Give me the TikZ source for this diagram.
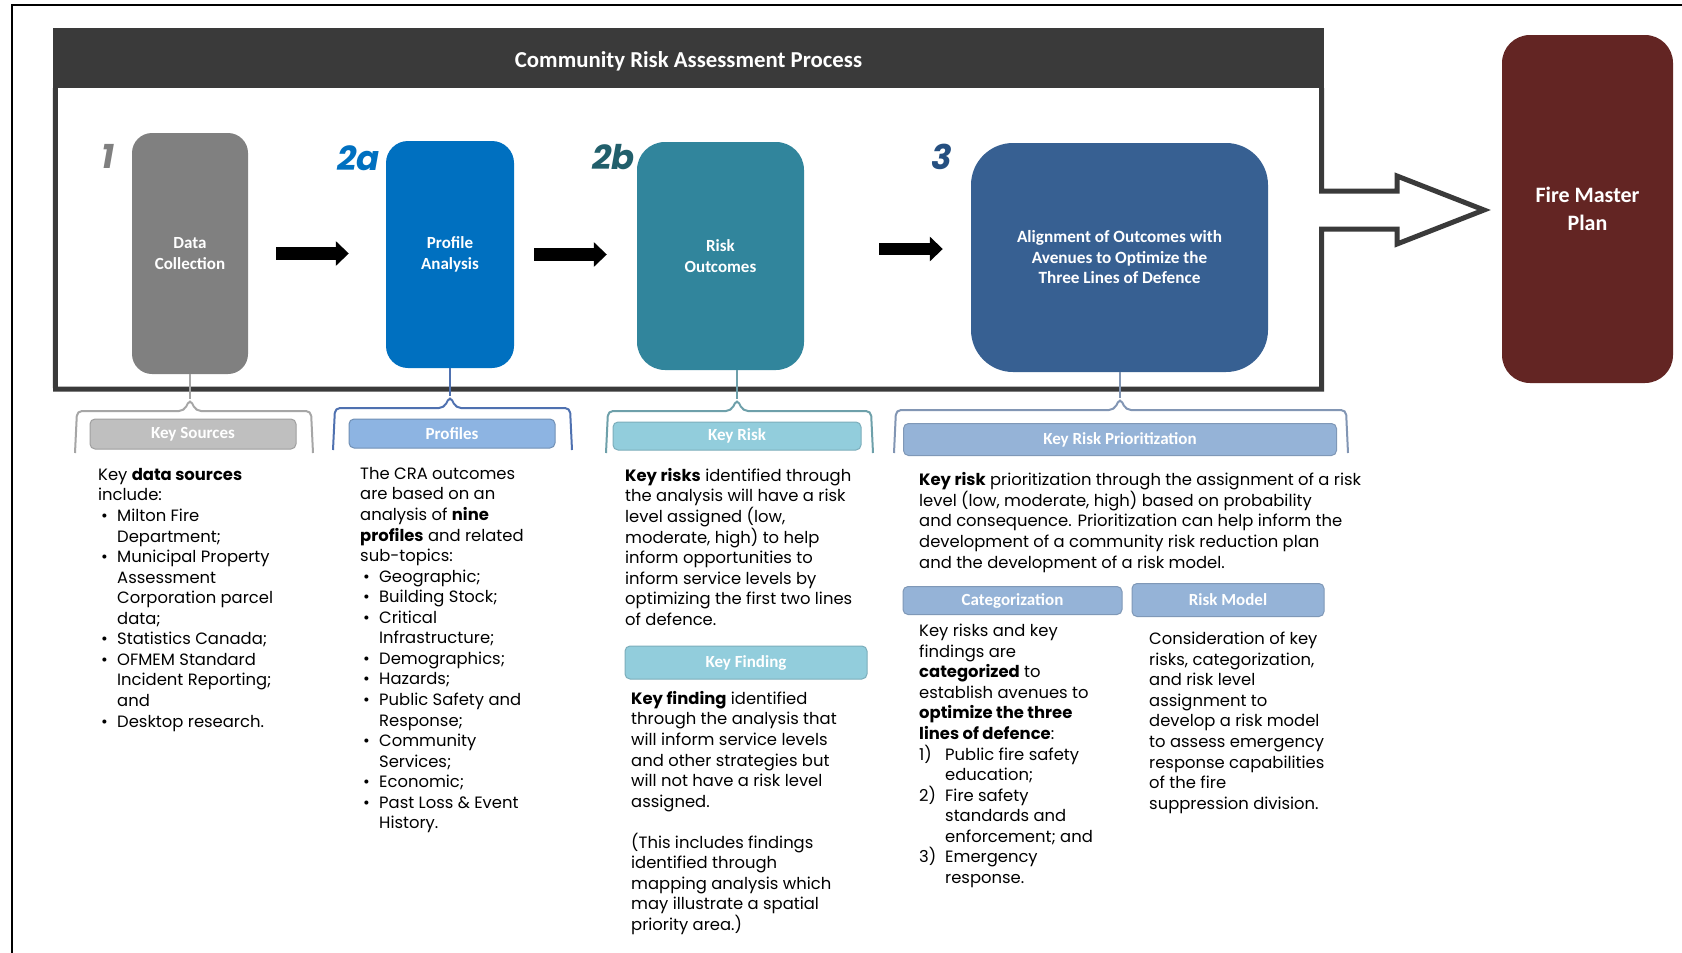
\documentclass[tikz,border=0pt]{standalone}
\usepackage{fontspec}
\setmainfont{Carlito}
\newfontfamily\bodyfont{Poppins}
\usetikzlibrary{positioning,arrows.meta}

\definecolor{hdrgray}{RGB}{58,58,58}
\definecolor{dcgray}{RGB}{128,128,128}
\definecolor{pablue}{RGB}{0,112,192}
\definecolor{roteal}{RGB}{49,133,156}
\definecolor{alblue}{RGB}{55,96,146}
\definecolor{fmpred}{RGB}{99,37,35}
\definecolor{tealdark}{RGB}{33,95,107}
\definecolor{bluedark}{RGB}{37,79,128}
\definecolor{bargray}{RGB}{191,191,191}
\definecolor{barblue}{RGB}{141,180,226}
\definecolor{barteal}{RGB}{146,205,220}
\definecolor{barsteel}{RGB}{149,179,215}
\definecolor{bracegray}{RGB}{166,166,166}
\definecolor{braceblue}{RGB}{79,113,176}
\definecolor{braceteal}{RGB}{110,160,170}
\definecolor{bracesteel}{RGB}{130,150,180}

\newcommand{\bitem}{\hspace*{3pt}\makebox[16pt][l]{\textbullet}}
\newcommand{\bcont}{\hspace*{19pt}}
\newcommand{\nitem}[1]{\makebox[26pt][l]{#1)}}
\newcommand{\ncont}{\hspace*{26pt}}

\begin{document}
\begin{tikzpicture}[x=1pt,y=-1pt,
  stagebox/.style={text=white,align=center,inner sep=0pt,
    font=\fontsize{17}{21}\selectfont\bfseries},
  steptag/.style={inner sep=0pt,font=\bodyfont\fontsize{34}{34}\selectfont\bfseries\itshape},
  fatarrow/.style={line width=12.5pt,-{Triangle[length=13pt,width=24pt]}},
  bar/.style={rounded corners=5pt,line width=1pt,text=white,inner sep=0pt,
    font=\fontsize{17}{18}\selectfont\bfseries},
  brace/.style={line width=2pt,rounded corners=5pt},
  bodytext/.style={anchor=north west,align=left,inner sep=0pt,
    font=\bodyfont\fontsize{16.4}{20.56}\selectfont}]

\fill[white] (0,0) rectangle (1682,953);
\useasboundingbox (0,0) rectangle (1682,953);
\draw[line width=2.5pt] (12,953) -- (12,5) -- (1682,5);

% process frame
\node[fill=hdrgray,minimum width=1271pt,minimum height=60pt,inner sep=0pt,text=white,
  text height=19pt,text depth=0pt,
  font=\fontsize{22.8}{24}\selectfont\bfseries] (hdr) at (688.5,58) {Community Risk Assessment Process};
\draw[line width=5pt,draw=hdrgray] ([xshift=-2.5pt]hdr.south east) -- (1321.5,191) -- (1397,191)
  -- (1397,176) -- (1484,210) -- (1397,244) -- (1397,229) -- (1321.5,229) -- (1321.5,389)
  -- (55.5,389) -- ([xshift=2.5pt]hdr.south west);

% stages
\node[stagebox,fill=dcgray,rounded corners=20pt,minimum width=116pt,minimum height=241pt] (dc) at (190,253.5) {Data\\Collection};
\node[stagebox,fill=pablue,rounded corners=22pt,minimum width=128pt,minimum height=227pt] (pa) at (450,254.5) {Profile\\Analysis};
\node[stagebox,fill=roteal,rounded corners=28pt,minimum width=167pt,minimum height=228pt] (ro) at (720.5,256) {Risk\\Outcomes};
\node[stagebox,fill=alblue,rounded corners=42pt,minimum width=297pt,minimum height=229pt,
  font=\fontsize{17.2}{20.5}\selectfont\bfseries] (al) at (1119.5,257.5) {Alignment of Outcomes with\\Avenues to Optimize the\\Three Lines of Defence};
\node[stagebox,fill=fmpred,rounded corners=28pt,minimum width=171pt,minimum height=348pt,
  font=\fontsize{22}{28}\selectfont\bfseries] (fmp) at (1587.5,209) {Fire Master\\Plan};

\node[steptag,text=dcgray,below left=11pt and 17pt of dc.north west] (t1) {1};
\node[steptag,text=pablue,below left=5pt and 6pt of pa.north west] (t2a) {2a};
\node[steptag,text=tealdark,below left=2pt and 2pt of ro.north west] (t2b) {2b};
\node[steptag,text=bluedark,below left=1pt and 19pt of al.north west] (t3) {3};

\draw[fatarrow,shorten <=28pt,shorten >=37pt] (dc.east) -- (dc.east -| pa.west);
\draw[fatarrow,shorten <=20pt,shorten >=30pt] (pa.east) -- (pa.east -| ro.west);
\draw[fatarrow,shorten <=75pt,shorten >=28pt] ([yshift=7pt]ro.east) -- ([yshift=7pt]ro.east -| al.west);

% headings
\node[bar,fill=bargray,draw=gray!75,minimum width=206pt,minimum height=30pt] (ks) at (193,434) {Key Sources};
\node[bar,fill=barblue,draw=barblue!80!black,minimum width=206pt,minimum height=29pt] (pf) at (452,433.5) {Profiles};
\node[bar,fill=barteal,draw=barteal!85!black,minimum width=248pt,minimum height=28pt] (kr) at (737,436) {Key Risk};
\node[bar,fill=barsteel,draw=barsteel!85!black,minimum width=433pt,minimum height=32pt] (krp) at (1120,439.5) {Key Risk Prioritization};
\node[bar,fill=barteal,draw=barteal!85!black,minimum width=242pt,minimum height=33pt] (kf) at (746,662.5) {Key Finding};
\node[bar,fill=barsteel,draw=barsteel!85!black,minimum width=219pt,minimum height=28pt] (cat) at (1012.5,600.5) {Categorization};
\node[bar,fill=barsteel,draw=barsteel!85!black,minimum width=192pt,minimum height=33pt] (rm) at (1228,600) {Risk Model};

% braces
\draw[brace,draw=bracegray] (dc.south) -- (190,399);
\draw[brace,draw=bracegray] (75,453) -- (77,411) -- (184,411) -- (190,399) -- (196,411) -- (311,411) -- (313,453);
\draw[brace,draw=braceblue] (pa.south) -- (450,396);
\draw[brace,draw=braceblue] (333,450) -- (335,408) -- (444,408) -- (450,396) -- (456,408) -- (570,408) -- (572,450);
\draw[brace,draw=braceteal] (kr.north |- ro.south) -- (737,399);
\draw[brace,draw=braceteal] (606,453) -- (608,411) -- (731,411) -- (737,399) -- (743,411) -- (871,411) -- (873,453);
\draw[brace,draw=bracesteel] (krp.north |- al.south) -- (1120,398);
\draw[brace,draw=bracesteel] (894,453) -- (896,410) -- (1114,410) -- (1120,398) -- (1126,410) -- (1346,410) -- (1348,453);

% texts
\node[bodytext] (kstext) at (98,468) {Key \textbf{data sources}\\include:\\
  \bitem Milton Fire\\\bcont Department;\\
  \bitem Municipal Property\\\bcont Assessment\\\bcont Corporation parcel\\\bcont data;\\
  \bitem Statistics Canada;\\
  \bitem OFMEM Standard\\\bcont Incident Reporting;\\\bcont and\\
  \bitem Desktop research.};
\node[bodytext] (pftext) at (360,467) {The CRA outcomes\\are based on an\\analysis of \textbf{nine}\\\textbf{profiles} and related\\sub-topics:\\
  \bitem Geographic;\\
  \bitem Building Stock;\\
  \bitem Critical\\\bcont Infrastructure;\\
  \bitem Demographics;\\
  \bitem Hazards;\\
  \bitem Public Safety and\\\bcont Response;\\
  \bitem Community\\\bcont Services;\\
  \bitem Economic;\\
  \bitem Past Loss \& Event\\\bcont History.};
\node[bodytext] (krtext) at (625,468) {\textbf{Key risks} identified through\\the analysis will have a risk\\level assigned (low,\\moderate, high) to help\\inform opportunities to\\inform service levels by\\optimizing the first two lines\\of defence.};
\node[bodytext] (kftext) at (631,691) {\textbf{Key finding} identified\\through the analysis that\\will inform service levels\\and other strategies but\\will not have a risk level\\assigned.\\[20.56pt]
  (This includes findings\\identified through\\mapping analysis which\\may illustrate a spatial\\priority area.)};
\node[bodytext] (krptext) at (919,472.5) {\textbf{Key risk} prioritization through the assignment of a risk\\level (low, moderate, high) based on probability\\and consequence. Prioritization can help inform the\\development of a community risk reduction plan\\and the development of a risk model.};
\node[bodytext] (cattext) at (919,624) {Key risks and key\\findings are\\\textbf{categorized} to\\establish avenues to\\\textbf{optimize the three}\\\textbf{lines of defence}:\\
  \nitem{1}Public fire safety\\\ncont education;\\
  \nitem{2}Fire safety\\\ncont standards and\\\ncont enforcement; and\\
  \nitem{3}Emergency\\\ncont response.};
\node[bodytext] (rmtext) at (1149,632) {Consideration of key\\risks, categorization,\\and risk level\\assignment to\\develop a risk model\\to assess emergency\\response capabilities\\of the fire\\suppression division.};
\end{tikzpicture}
\end{document}
